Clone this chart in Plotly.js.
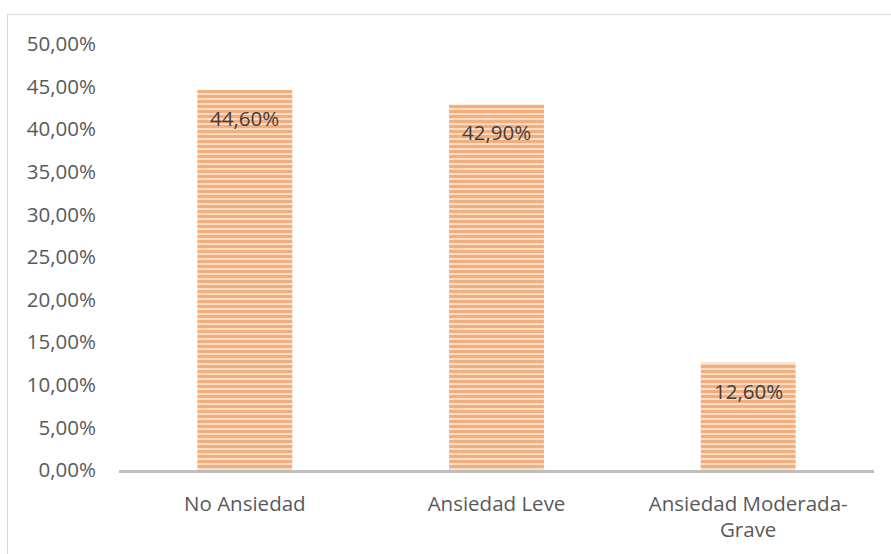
<!DOCTYPE html>
<html>
<head>
<meta charset="utf-8">
<script src="https://cdn.plot.ly/plotly-3.0.1.min.js"></script>
<style>
html,body{margin:0;padding:0;background:#fff;}
#wrap{position:relative;width:891px;height:554px;overflow:hidden;}
#chart{position:absolute;left:0;top:0;width:891px;height:554px;}
#frame{position:absolute;left:7px;top:14px;width:900px;height:600px;border-left:1px solid #D9D9D9;border-top:1px solid #D9D9D9;pointer-events:none;}
</style>
</head>
<body>
<div id="wrap"><div id="chart"></div><div id="frame"></div></div>
<script>
const categories = ["No Ansiedad", "Ansiedad Leve", "Ansiedad Moderada-<br>Grave"];
const values = [0.446, 0.429, 0.126];
const labels = ["44,60%", "42,90%", "12,60%"];
const tickVals = [0, 0.05, 0.10, 0.15, 0.20, 0.25, 0.30, 0.35, 0.40, 0.45, 0.50];
const tickText = ["0,00%", "5,00%", "10,00%", "15,00%", "20,00%", "25,00%", "30,00%", "35,00%", "40,00%", "45,00%", "50,00%"];

const font = "Open Sans, sans-serif";
const trace = {
  type: "bar",
  x: categories,
  y: values,
  width: 0.377,
  marker: {
    color: "#FBDDC6",
    line: {width: 0},
    pattern: {shape: "-", fgcolor: "#ED7D31", bgcolor: "#FBDDC6", size: 5, solidity: 0.6, fillmode: "overlay"}
  },
  hoverinfo: "none"
};
const annotations = categories.map((c, i) => ({
  x: c, y: values[i], xref: "x", yref: "y",
  text: labels[i], showarrow: false, yanchor: "top", yshift: -12,
  font: {family: font, size: 20.5, color: "#404040"}
}));
const layout = {
  width: 891, height: 554,
  margin: {l: 118.5, r: 16.5, t: 44, b: 84},
  paper_bgcolor: "#fff", plot_bgcolor: "#fff",
  showlegend: false,
  bargap: 0.623,
  xaxis: {
    showline: true, linecolor: "#BFBFBF", linewidth: 3,
    showgrid: false, zeroline: false, ticks: "",
    tickfont: {family: font, size: 20.5, color: "#595959"},
    ticklabelstandoff: 13
  },
  yaxis: {
    range: [0, 0.5], tickvals: tickVals, ticktext: tickText,
    showgrid: false, zeroline: false, showline: false, ticks: "",
    tickfont: {family: font, size: 20.5, color: "#595959"},
    ticklabelstandoff: 22
  },
  annotations: annotations
};
Plotly.newPlot("chart", [trace], layout, {displayModeBar: false, staticPlot: true});
</script>
</body>
</html>
